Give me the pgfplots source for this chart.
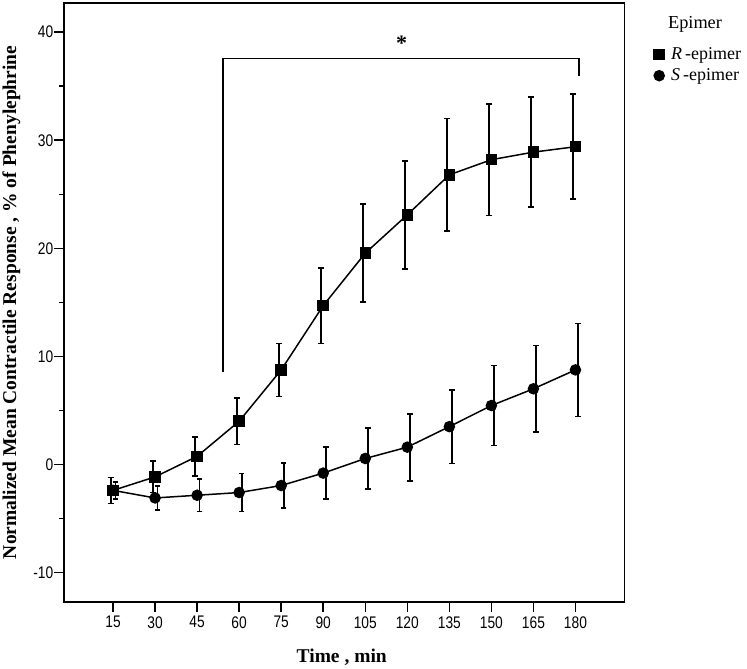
\documentclass[border=0pt]{standalone}
\usepackage{fontspec}
\setmainfont{Liberation Serif}
\newfontfamily\tickfont[FakeStretch=0.82]{Liberation Sans}
\usepackage{pgfplots}
\pgfplotsset{compat=1.18}
\usepackage{pgfplotstable}

\pgfplotstableread{
t m e
15 -2.4 1.2
30 -1.15 1.45
45 0.75 1.8
60 4.0 2.15
75 8.75 2.45
90 14.7 3.5
105 19.55 4.55
120 23.1 5.0
135 26.8 5.2
150 28.2 5.15
165 28.9 5.1
180 29.4 4.85
}\Rdata

\pgfplotstableread{
t m e
15 -2.4 0.8
30 -3.1 1.1
45 -2.85 1.5
60 -2.6 1.75
75 -1.95 2.1
90 -0.8 2.4
105 0.55 2.8
120 1.6 3.1
135 3.5 3.4
150 5.45 3.7
165 7.0 4.0
180 8.75 4.3
}\Sdata

\begin{document}
\begin{tikzpicture}
\path[use as bounding box] (0,0) rectangle (747bp,669bp);
\begin{axis}[
  at={(64bp,67.3bp)}, anchor=south west,
  scale only axis, width=560.5bp, height=598.7bp,
  xmin=-2.5, xmax=197.5, ymin=-12.7, ymax=42.7,
  clip=false,
  axis line style={line width=1.7bp},
  xtick={15,30,...,180}, ytick={-10,0,...,40},
  minor y tick num=1,
  tick align=outside, xtick pos=bottom, ytick pos=left,
  major tick length=10bp, minor tick length=5bp,
  every tick/.style={line width=1.5bp, black},
  ticklabel style={font=\tickfont\fontsize{16.8bp}{16.8bp}\selectfont},
  /pgf/number format/assume math mode=true,
  yticklabel style={inner xsep=0.5bp},
  xticklabel style={inner ysep=4.5bp},
  xlabel={Time , min},
  ylabel={Normalized Mean Contractile Response , \% of Phenylephrine},
  label style={font=\bfseries\fontsize{19.5bp}{19.5bp}\selectfont},
  xlabel style={at={(axis description cs:0.4955,0)}, anchor=base, yshift=-61bp},
  ylabel style={at={(axis description cs:-0.0937,0.5)}, anchor=center},
  legend style={at={(1,1)}, anchor=north west, xshift=29.5bp, yshift=-42bp,
    draw=none, fill=none, inner sep=0pt, row sep=2bp,
    font=\fontsize{18bp}{18bp}\selectfont,
    nodes={inner sep=1bp, text height=13bp, text depth=4bp}},
  legend cell align=left,
  legend image code/.code={\draw[#1, only marks] plot coordinates {(0cm,0cm)};},
  error bars/y dir=both, error bars/y explicit,
  error bars/error mark options={rotate=90, mark size=2.8bp, line width=1.7bp, black},
]
\addplot[black, line width=1.5bp, mark=square*, mark size=5bp, mark options={solid},
  error bars/error bar style={line width=1.7bp, black, xshift=-2.3bp}]
  table[x=t, y=m, y error=e] {\Rdata};
\addlegendentry{\hspace{6bp}\textit{R}\,-epimer}
\addplot[black, line width=1.5bp, mark=*, mark size=5bp, mark options={solid},
  error bars/error bar style={line width=1.7bp, black, xshift=2.5bp}]
  table[x=t, y=m, y error=e] {\Sdata};
\addlegendentry{\hspace{6bp}\textit{S}\,-epimer}
\draw[line width=1.6bp] (axis cs:54.2,8.6) -- (axis cs:54.2,37.55) -- (axis cs:181.2,37.55) -- (axis cs:181.2,35.9);
\node[font=\bfseries\fontsize{22bp}{22bp}\selectfont] at (axis cs:118,38.95) {*};
\node[anchor=base, font=\fontsize{18.3bp}{18.3bp}\selectfont] at (rel axis cs:1.1258,0.9578) {Epimer};
\end{axis}
\end{tikzpicture}
\end{document}
